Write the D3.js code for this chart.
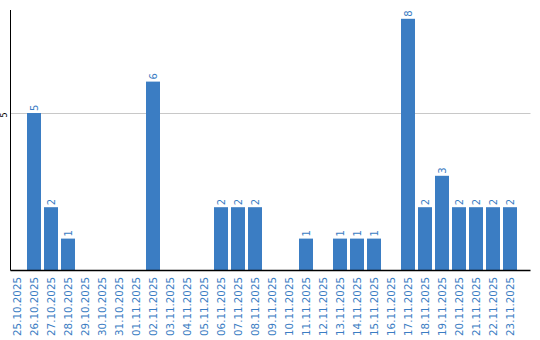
<!DOCTYPE html>
<html>
<head>
<meta charset="utf-8">
<script src="https://cdn.jsdelivr.net/npm/d3@7"></script>
<style>
body { margin: 0; background: #fff; }
</style>
</head>
<body>
<div id="chart"></div>
<script>
var dates = ["25.10.2025", "26.10.2025", "27.10.2025", "28.10.2025", "29.10.2025",
	"30.10.2025", "31.10.2025", "01.11.2025", "02.11.2025", "03.11.2025",
	"04.11.2025", "05.11.2025", "06.11.2025", "07.11.2025", "08.11.2025",
	"09.11.2025", "10.11.2025", "11.11.2025", "12.11.2025", "13.11.2025",
	"14.11.2025", "15.11.2025", "16.11.2025", "17.11.2025", "18.11.2025",
	"19.11.2025", "20.11.2025", "21.11.2025", "22.11.2025", "23.11.2025"];
var counts = [0, 5, 2, 1, 0, 0, 0, 0, 6, 0, 0, 0, 2, 2, 2, 0, 0, 1, 0, 1, 1, 1, 0, 8, 2, 3, 2, 2, 2, 2];
var yTicks = [5];

function init() {
	var w = 540;
	var h = 340;
	var left = 10.5;
	var right = 530.5;
	var top = 10;
	var base = 270;
	var blue = "#3b7dc3";

	var svg = d3.select("#chart")
		.append("svg")
		.attr("width", w)
		.attr("height", h);

	var xScale = d3.scaleBand()
		.domain(dates)
		.range([8.5, 518.5])
		.paddingInner(3 / 17)
		.paddingOuter(1.5 / 17);

	var yScale = d3.scaleLinear()
		.domain([0, 260 / 31.4])
		.range([base, top]);

	// grid
	svg.selectAll("line.grid")
		.data(yTicks)
		.enter()
		.append("line")
		.attr("class", "grid")
		.attr("x1", left)
		.attr("x2", right)
		.attr("y1", function(d) { return Math.round(yScale(d)) + 0.5; })
		.attr("y2", function(d) { return Math.round(yScale(d)) + 0.5; })
		.attr("stroke", "#c8c8c8");

	svg.selectAll("rect")
		.data(counts)
		.enter()
		.append("rect")
		.attr("x", function(d, i) { return xScale(dates[i]); })
		.attr("width", xScale.bandwidth())
		.attr("y", function(d) { return yScale(d); })
		.attr("height", function(d) { return base - yScale(d); })
		.attr("fill", blue);

	// value labels, only for non-zero bars
	counts.forEach(function(d, i) {
		if (d <= 0) return;
		var cx = xScale(dates[i]) + xScale.bandwidth() / 2;
		svg.append("text")
			.attr("transform", "translate(" + (cx + 3.5) + "," + (yScale(d) - 2) + ") rotate(-90)")
			.attr("font-family", "DejaVu Sans")
			.attr("font-size", 10)
			.attr("fill", blue)
			.text(d);
	});

	// x labels
	dates.forEach(function(d) {
		var cx = xScale(d) + xScale.bandwidth() / 2;
		svg.append("text")
			.attr("transform", "translate(" + (cx + 3.5) + ",277) rotate(-90)")
			.attr("text-anchor", "end")
			.attr("font-family", "DejaVu Sans")
			.attr("font-size", 10.3)
			.attr("fill", blue)
			.text(d);
	});

	// y tick labels
	yTicks.forEach(function(t) {
		svg.append("text")
			.attr("transform", "translate(7," + (yScale(t) + 2) + ") rotate(-90)")
			.attr("text-anchor", "middle")
			.attr("font-family", "DejaVu Sans")
			.attr("font-size", 8)
			.attr("fill", "#000")
			.text(t);
	});

	// axes
	svg.append("line")
		.attr("x1", left).attr("x2", left)
		.attr("y1", top).attr("y2", base + 0.5)
		.attr("stroke", "#000");
	svg.append("line")
		.attr("x1", left).attr("x2", right)
		.attr("y1", base + 0.5).attr("y2", base + 0.5)
		.attr("stroke", "#000")
		.attr("stroke-width", 1.3);
}

window.onload = init;
</script>
</body>
</html>
